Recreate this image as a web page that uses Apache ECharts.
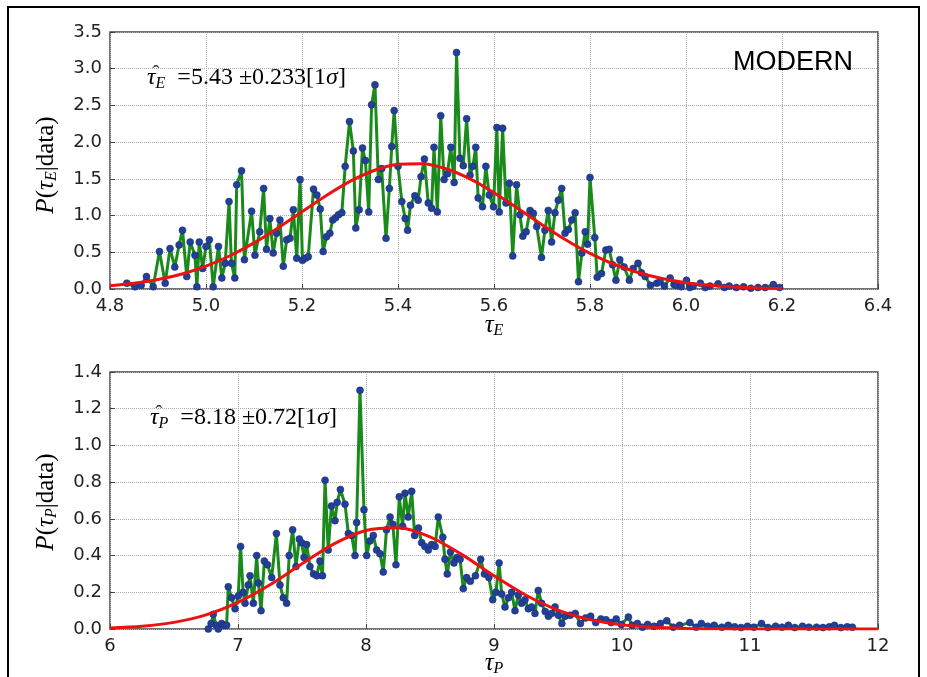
<!DOCTYPE html>
<html>
<head>
<meta charset="utf-8">
<script src="https://cdn.jsdelivr.net/npm/echarts@6/dist/echarts.min.js"></script>
<style>
  html, body { margin: 0; padding: 0; background: #fff; }
  #chart-container { width: 927px; height: 677px; }
</style>
</head>
<body>
<div id="chart-container"></div>
<script>
// tau_E posterior samples (top panel)
let tauEx = [4.835, 4.852, 4.865, 4.876, 4.89, 4.903, 4.915, 4.925, 4.935, 4.944, 4.951, 4.96, 4.967, 4.977, 4.981, 4.986, 4.993, 5.0, 5.007, 5.015,
  5.026, 5.033, 5.04, 5.048, 5.053, 5.06, 5.064, 5.074, 5.08, 5.095, 5.102, 5.112, 5.12, 5.126, 5.133, 5.14, 5.147, 5.154, 5.161, 5.168,
  5.175, 5.182, 5.189, 5.196, 5.201, 5.207, 5.213, 5.224, 5.231, 5.238, 5.244, 5.251, 5.258, 5.264, 5.27, 5.276, 5.283, 5.29, 5.299, 5.307,
  5.312, 5.319, 5.326, 5.332, 5.339, 5.345, 5.352, 5.359, 5.366, 5.375, 5.382, 5.387, 5.392, 5.4, 5.408, 5.415, 5.42, 5.426, 5.435, 5.442,
  5.448, 5.455, 5.463, 5.47, 5.475, 5.482, 5.489, 5.496, 5.503, 5.51, 5.517, 5.522, 5.529, 5.536, 5.543, 5.55, 5.556, 5.562, 5.567, 5.576,
  5.583, 5.59, 5.599, 5.606, 5.611, 5.618, 5.625, 5.632, 5.639, 5.647, 5.654, 5.66, 5.667, 5.675, 5.682, 5.689, 5.699, 5.706, 5.713, 5.72,
  5.727, 5.734, 5.741, 5.748, 5.755, 5.762, 5.769, 5.776, 5.783, 5.79, 5.795, 5.8, 5.81, 5.815, 5.824, 5.833, 5.84, 5.847, 5.854, 5.862,
  5.871, 5.882, 5.89, 5.9, 5.907, 5.915, 5.926, 5.939, 5.946, 5.955, 5.967, 5.975, 5.98, 5.99, 6.001, 6.008, 6.015, 6.03, 6.04, 6.05,
  6.067, 6.08, 6.09, 6.105, 6.12, 6.135, 6.15, 6.165, 6.182, 6.195];
let tauEp = [0.08, 0.03, 0.05, 0.17, 0.03, 0.51, 0.08, 0.55, 0.30, 0.60, 0.80, 0.17, 0.64, 0.46, 0.03, 0.64, 0.28, 0.58, 0.67, 0.03,
  0.58, 0.15, 0.35, 1.19, 0.35, 0.15, 1.42, 1.61, 0.40, 1.06, 0.46, 0.78, 1.37, 0.54, 0.96, 0.49, 0.76, 0.94, 0.31, 0.67,
  0.69, 1.08, 0.42, 1.49, 0.39, 0.42, 0.44, 1.36, 1.28, 1.09, 0.51, 0.71, 0.76, 0.94, 0.97, 1.01, 1.04, 1.67, 2.28, 1.88,
  0.83, 1.08, 1.92, 1.75, 1.05, 2.51, 2.78, 1.49, 1.64, 0.69, 1.37, 1.94, 2.43, 1.67, 1.19, 0.96, 0.80, 1.14, 1.27, 1.21,
  1.53, 1.77, 1.17, 1.10, 1.93, 1.05, 2.36, 1.49, 1.57, 1.93, 1.45, 3.22, 1.78, 1.68, 2.32, 1.55, 1.67, 1.93, 1.24, 1.12,
  1.67, 1.28, 1.12, 2.20, 1.05, 2.19, 1.17, 1.44, 0.45, 1.42, 1.01, 0.72, 0.78, 1.07, 1.03, 0.85, 0.43, 0.80, 1.07, 0.64,
  1.04, 1.21, 1.37, 0.76, 0.81, 0.94, 1.04, 0.10, 0.49, 0.78, 0.61, 1.52, 0.70, 0.16, 0.21, 0.53, 0.54, 0.33, 0.12, 0.40,
  0.30, 0.12, 0.28, 0.35, 0.22, 0.17, 0.05, 0.08, 0.10, 0.04, 0.15, 0.06, 0.05, 0.03, 0.12, 0.02, 0.04, 0.08, 0.02, 0.04,
  0.07, 0.02, 0.04, 0.02, 0.03, 0.01, 0.02, 0.02, 0.06, 0.02];

// gaussian fit (top)
let fitEx = [4.8, 4.85, 4.9, 4.95, 5.0, 5.05, 5.1, 5.15, 5.2, 5.25, 5.3, 5.35, 5.4, 5.45, 5.5, 5.55, 5.6, 5.65, 5.7, 5.75,
  5.8, 5.85, 5.9, 5.95, 6.0, 6.05, 6.1, 6.15, 6.2];
let fitEp = [0.044, 0.077, 0.129, 0.205, 0.312, 0.453, 0.628, 0.832, 1.052, 1.270, 1.465, 1.614, 1.698, 1.706, 1.637, 1.499, 1.312, 1.096, 0.875, 0.667,
  0.485, 0.337, 0.224, 0.142, 0.086, 0.050, 0.027, 0.014, 0.007];

// tau_P posterior samples (bottom panel)
let tauPx = [6.768, 6.79, 6.807, 6.83, 6.846, 6.872, 6.895, 6.911, 6.924, 6.95, 6.977, 7.002, 7.02, 7.04, 7.055, 7.08, 7.094, 7.12, 7.146, 7.16,
  7.18, 7.206, 7.23, 7.263, 7.3, 7.328, 7.354, 7.38, 7.4, 7.427, 7.453, 7.479, 7.497, 7.516, 7.536, 7.562, 7.59, 7.615, 7.64, 7.66,
  7.68, 7.705, 7.73, 7.758, 7.775, 7.8, 7.836, 7.862, 7.888, 7.914, 7.927, 7.953, 7.984, 8.005, 8.03, 8.057, 8.083, 8.11, 8.135, 8.16,
  8.188, 8.21, 8.234, 8.26, 8.286, 8.305, 8.33, 8.357, 8.38, 8.41, 8.435, 8.46, 8.487, 8.513, 8.54, 8.565, 8.6, 8.617, 8.635, 8.66,
  8.687, 8.71, 8.735, 8.76, 8.786, 8.815, 8.855, 8.896, 8.925, 8.96, 8.99, 9.015, 9.04, 9.06, 9.086, 9.112, 9.138, 9.164, 9.19, 9.216,
  9.242, 9.268, 9.294, 9.32, 9.346, 9.372, 9.4, 9.425, 9.45, 9.477, 9.503, 9.53, 9.555, 9.595, 9.635, 9.675, 9.715, 9.755, 9.795, 9.835,
  9.875, 9.915, 9.955, 9.995, 10.05, 10.08, 10.12, 10.16, 10.2, 10.25, 10.3, 10.35, 10.4, 10.45, 10.53, 10.58, 10.62, 10.67, 10.72, 10.78,
  10.83, 10.88, 10.93, 10.98, 11.03, 11.09, 11.14, 11.2, 11.25, 11.3, 11.35, 11.41, 11.46, 11.52, 11.57, 11.62, 11.66, 11.71, 11.76, 11.8];
let tauPp = [0.00, 0.03, 0.08, 0.02, 0.00, 0.03, 0.02, 0.02, 0.23, 0.17, 0.11, 0.18, 0.45, 0.20, 0.14, 0.24, 0.29, 0.14, 0.40, 0.25,
  0.10, 0.37, 0.35, 0.28, 0.52, 0.24, 0.17, 0.14, 0.40, 0.54, 0.34, 0.49, 0.47, 0.39, 0.46, 0.34, 0.30, 0.29, 0.37, 0.29,
  0.81, 0.43, 0.67, 0.59, 0.69, 0.76, 0.68, 0.52, 0.51, 0.40, 0.58, 1.30, 0.65, 0.40, 0.48, 0.51, 0.43, 0.41, 0.31, 0.54,
  0.61, 0.57, 0.35, 0.72, 0.56, 0.74, 0.61, 0.75, 0.51, 0.55, 0.47, 0.45, 0.43, 0.46, 0.45, 0.61, 0.50, 0.38, 0.30, 0.42,
  0.36, 0.39, 0.38, 0.22, 0.28, 0.26, 0.29, 0.38, 0.30, 0.28, 0.16, 0.20, 0.36, 0.19, 0.12, 0.17, 0.20, 0.10, 0.185, 0.14,
  0.16, 0.11, 0.12, 0.085, 0.21, 0.14, 0.095, 0.07, 0.085, 0.12, 0.075, 0.03, 0.07, 0.075, 0.085, 0.03, 0.06, 0.07, 0.035, 0.055,
  0.05, 0.035, 0.055, 0.025, 0.065, 0.02, 0.03, 0.01, 0.025, 0.015, 0.03, 0.045, 0.01, 0.02, 0.035, 0.01, 0.03, 0.015, 0.02, 0.01,
  0.02, 0.012, 0.008, 0.015, 0.01, 0.03, 0.008, 0.015, 0.01, 0.02, 0.008, 0.015, 0.01, 0.01, 0.008, 0.012, 0.02, 0.008, 0.012, 0.01];

// gaussian fit (bottom)
let fitPx = [6.0, 6.25, 6.5, 6.75, 7.0, 7.25, 7.5, 7.75, 8.0, 8.25, 8.5, 8.75, 9.0, 9.25, 9.5, 9.75, 10.0, 10.25, 10.5, 10.75,
  11.0, 11.5, 12.0];
let fitPp = [0.006, 0.015, 0.036, 0.077, 0.145, 0.241, 0.355, 0.464, 0.537, 0.551, 0.502, 0.405, 0.290, 0.184, 0.103, 0.051, 0.023, 0.009, 0.003, 0.001,
  0.0, 0.0, 0.0];

const pairs = (xs, ys) => xs.map((x, i) => [x, ys[i]]);

const tickFont = { fontFamily: 'DejaVu Sans', fontSize: 18, color: '#222' };
const serif = '"Liberation Serif", serif';

// mathtext-like rich styles, one set per size
function richSet(size, color) {
  return {
    it: { fontFamily: serif, fontStyle: 'italic', fontSize: size, color: color },
    rm: { fontFamily: serif, fontSize: size, color: color },
    sub: { fontFamily: serif, fontStyle: 'italic', fontSize: Math.round(size * 0.65), color: color,
      verticalAlign: 'bottom', padding: [Math.round(size * 0.45), 0, 0, 0] }
  };
}
const richNote = richSet(24, '#333');
const richLabel = richSet(25, '#444');

let dom = document.getElementById('chart-container');
let chart = echarts.init(dom, null, { renderer: 'canvas' });

function grid(top) {
  return {
    left: 110, top: top, width: 768, height: 257,
    containLabel: false,
    show: true, borderColor: '#444', borderWidth: 1.5, backgroundColor: '#fff'
  };
}

function xAxis(idx, min, max, interval, digits) {
  return {
    type: 'value', gridIndex: idx, min: min, max: max, interval: interval,
    axisLine: { show: false },
    axisTick: { show: true, inside: true, length: 5, lineStyle: { color: '#444' } },
    axisLabel: Object.assign({ margin: 8, formatter: v => v.toFixed(digits) }, tickFont),
    splitLine: { show: true, lineStyle: { type: 'dotted', color: '#aaa', width: 1 } }
  };
}

function yAxis(idx, max, interval) {
  return {
    type: 'value', gridIndex: idx, min: 0, max: max, interval: interval,
    axisLine: { show: false },
    axisTick: { show: true, inside: true, length: 5, lineStyle: { color: '#444' } },
    axisLabel: Object.assign({ margin: 8, formatter: v => v.toFixed(1) }, tickFont),
    splitLine: { show: true, lineStyle: { type: 'dotted', color: '#aaa', width: 1 } }
  };
}

function samples(idx, data) {
  return {
    type: 'line', xAxisIndex: idx, yAxisIndex: idx, data: data,
    symbol: 'circle', symbolSize: 7, showAllSymbol: true,
    lineStyle: { color: '#1a8a1a', width: 3 },
    itemStyle: { color: '#22409a', borderColor: '#14286a', borderWidth: 0.5 },
    z: 2, silent: true, animation: false
  };
}

function fit(idx, data) {
  return {
    type: 'line', xAxisIndex: idx, yAxisIndex: idx, data: data,
    symbol: 'none', smooth: 0.3,
    lineStyle: { color: '#ee1111', width: 3 },
    z: 3, silent: true, animation: false
  };
}

function mathText(x, y, text, rich, align, rotation) {
  return {
    type: 'text', x: x, y: y, rotation: rotation || 0, z: 100,
    style: { text: text, rich: rich, align: align, verticalAlign: 'middle' }
  };
}

function hat(x, y) {
  return { type: 'text', x: x, y: y, z: 100,
    style: { text: '\u02C6', font: '22px "Liberation Serif"', fill: '#333', align: 'center', verticalAlign: 'middle' } };
}

let option = {
  backgroundColor: '#fff',
  animation: false,
  grid: [grid(32), grid(372)],
  xAxis: [xAxis(0, 4.8, 6.4, 0.2, 1), xAxis(1, 6, 12, 1, 0)],
  yAxis: [yAxis(0, 3.5, 0.5), yAxis(1, 1.4, 0.2)],
  series: [
    samples(0, pairs(tauEx, tauEp)),
    fit(0, pairs(fitEx, fitEp)),
    samples(1, pairs(tauPx, tauPp)),
    fit(1, pairs(fitPx, fitPp))
  ],
  graphic: [
    { type: 'rect', shape: { x: 8, y: 7, width: 911, height: 700 }, style: { fill: 'none', stroke: '#000', lineWidth: 2 }, z: 100 },
    { type: 'text', x: 733, y: 63, z: 100,
      style: { text: 'MODERN', font: '27px "Liberation Sans"', fill: '#000', align: 'left', verticalAlign: 'middle' } },
    mathText(147, 78, '{it|\u03C4}{sub|E}{rm|  =5.43 \u00B10.233[1}{it|\u03C3}{rm|]}', richNote, 'left'),
    hat(156, 74),
    mathText(150, 418, '{it|\u03C4}{sub|P}{rm|  =8.18 \u00B10.72[1}{it|\u03C3}{rm|]}', richNote, 'left'),
    hat(159, 414),
    mathText(46, 165, '{it|P}{rm|(}{it|\u03C4}{sub|E}{rm||data)}', richLabel, 'center', Math.PI / 2),
    mathText(46, 502, '{it|P}{rm|(}{it|\u03C4}{sub|P}{rm||data)}', richLabel, 'center', Math.PI / 2),
    mathText(494, 325, '{it|\u03C4}{sub|E}', richLabel, 'center'),
    mathText(494, 663, '{it|\u03C4}{sub|P}', richLabel, 'center')
  ]
};

chart.setOption(option);
window.addEventListener('resize', chart.resize);
</script>
</body>
</html>
